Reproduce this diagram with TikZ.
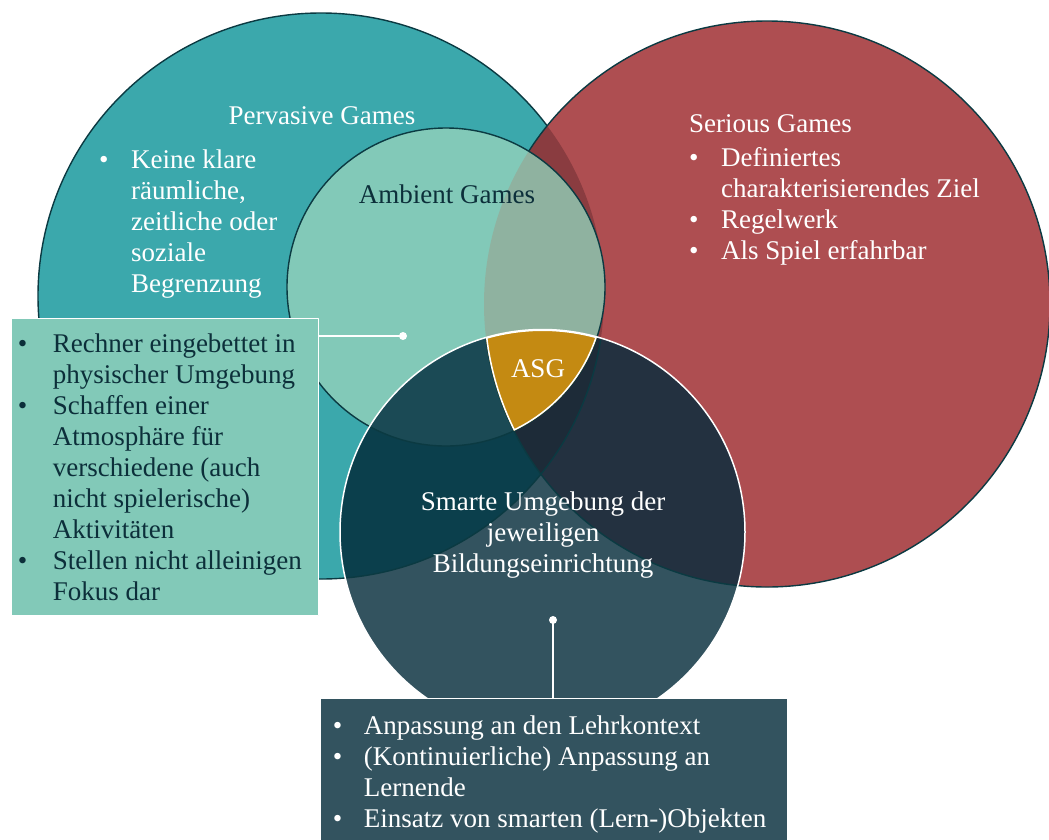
\documentclass[tikz,border=0pt]{standalone}
\usepackage{fontspec}
\setmainfont{Liberation Serif}

\definecolor{pervteal}{HTML}{3BA8AC}
\definecolor{ambmint}{HTML}{82C9B8}
\definecolor{serred}{HTML}{AE4E51}
\definecolor{pervser}{HTML}{8A3C40}
\definecolor{ambser}{HTML}{8FB2A0}
\definecolor{smartslate}{HTML}{33535F}
\definecolor{smperv}{HTML}{0B3F4C}
\definecolor{smamb}{HTML}{1B4A55}
\definecolor{smser}{HTML}{233140}
\definecolor{smpervser}{HTML}{1D2B38}
\definecolor{asggold}{HTML}{C48A12}
\definecolor{edgecol}{HTML}{0B3A42}
\definecolor{textdark}{HTML}{0C2F3A}

\newcommand{\bul}[1][32pt]{\makebox[#1][l]{\textbullet}}
\newcommand{\ind}[1][32pt]{\hspace*{#1}}

\def\pervc{(321,296) circle (283pt)}
\def\ambc{(446,287) circle (159pt)}
\def\serc{(767,304) circle (283pt)}
\def\smartc{(542.5,532) circle (202.5pt)}

\begin{document}
\begin{tikzpicture}[x=1pt,y=-1pt, line join=round, line cap=round,
  font=\fontsize{27}{31}\selectfont,
  txt/.style={inner sep=0pt, align=left},
  ring/.style={draw=edgecol, line width=1.4pt},
  infobox/.style={draw=white, line width=1pt, align=flush left, inner ysep=0pt, anchor=north west},
  link/.style={draw=white, line width=2pt}]
\useasboundingbox (0,0) rectangle (1049,839);

% Pervasive Games
\fill[pervteal] \pervc;
\draw[ring] \pervc;
% Serious Games
\fill[serred] \serc;
\begin{scope}
  \clip \pervc;
  \fill[pervser] \serc;
\end{scope}
\draw[ring] \serc;
% Ambient Games
\fill[ambmint] \ambc;
\begin{scope}
  \clip \ambc;
  \fill[ambser] \serc;
\end{scope}
\draw[ring] \ambc;
% smarte Umgebung
\fill[smartslate] \smartc;
\begin{scope}
  \clip \smartc;
  \fill[smperv] \pervc;
  \fill[smser] \serc;
  \begin{scope}
    \clip \pervc;
    \fill[smpervser] \serc;
  \end{scope}
  \fill[smamb] \ambc;
  \draw[ring] \pervc \serc \ambc;
\end{scope}
% ASG
\begin{scope}
  \clip \ambc;
  \clip \serc;
  \clip \smartc;
  \fill[asggold] \smartc;
  \draw[white, line width=3pt] \ambc \serc \smartc;
\end{scope}
\draw[white, line width=1.5pt] \smartc;

% texts in the circles
\node[txt, white, anchor=base] (pervtitle) at (322,124) {Pervasive Games};
\node[txt, white, anchor=north west] (pervlist) at (99,150)
  {\bul Keine klare\\ \ind räumliche,\\ \ind zeitliche oder\\ \ind soziale\\ \ind Begrenzung};
\node[txt, textdark, anchor=base] (ambtitle) at (447,203) {Ambient Games};
\node[txt, white, anchor=north west] (serlist) at (689,114)
  {Serious Games\\[3pt] \bul Definiertes\\ \ind charakterisierendes Ziel\\ \bul Regelwerk\\ \bul Als Spiel erfahrbar};
\node[txt, white, anchor=base] (asg) at (538,377) {ASG};
\node[txt, white, align=center, anchor=north] (smarttxt) at (543,492)
  {Smarte Umgebung der\\ jeweiligen\\ Bildungseinrichtung};

% boxes
\node[infobox, fill=ambmint, text=textdark, minimum width=307pt, minimum height=297pt,
  inner xsep=6.3pt, text width=294.4pt] (ambbox) at (11,318)
  {\bul[35pt]Rechner eingebettet in\\ \ind[35pt]physischer Umgebung\\
   \bul[35pt]Schaffen einer\\ \ind[35pt]Atmosphäre für\\ \ind[35pt]verschiedene (auch\\
   \ind[35pt]nicht spielerische)\\ \ind[35pt]Aktivitäten\\
   \bul[35pt]Stellen nicht alleinigen\\ \ind[35pt]Fokus dar};
\node[infobox, fill=smartslate, text=white, minimum width=467pt, minimum height=151pt,
  inner xsep=12.3pt, text width=442.4pt] (smartbox) at (320,698)
  {\bul[31pt]Anpassung an den Lehrkontext\\ \bul[31pt](Kontinuierliche) Anpassung an\\
   \ind[31pt]Lernende\\ \bul[31pt]Einsatz von smarten (Lern-)Objekten};

% connectors
\coordinate (ambdot) at (403,336);
\coordinate (smartdot) at (553,620);
\draw[link] (ambbox.east |- ambdot) -- (ambdot);
\fill[white] (ambdot) circle (4pt);
\draw[link] (smartdot) -- (smartdot |- smartbox.north);
\fill[white] (smartdot) circle (4pt);
\end{tikzpicture}
\end{document}
